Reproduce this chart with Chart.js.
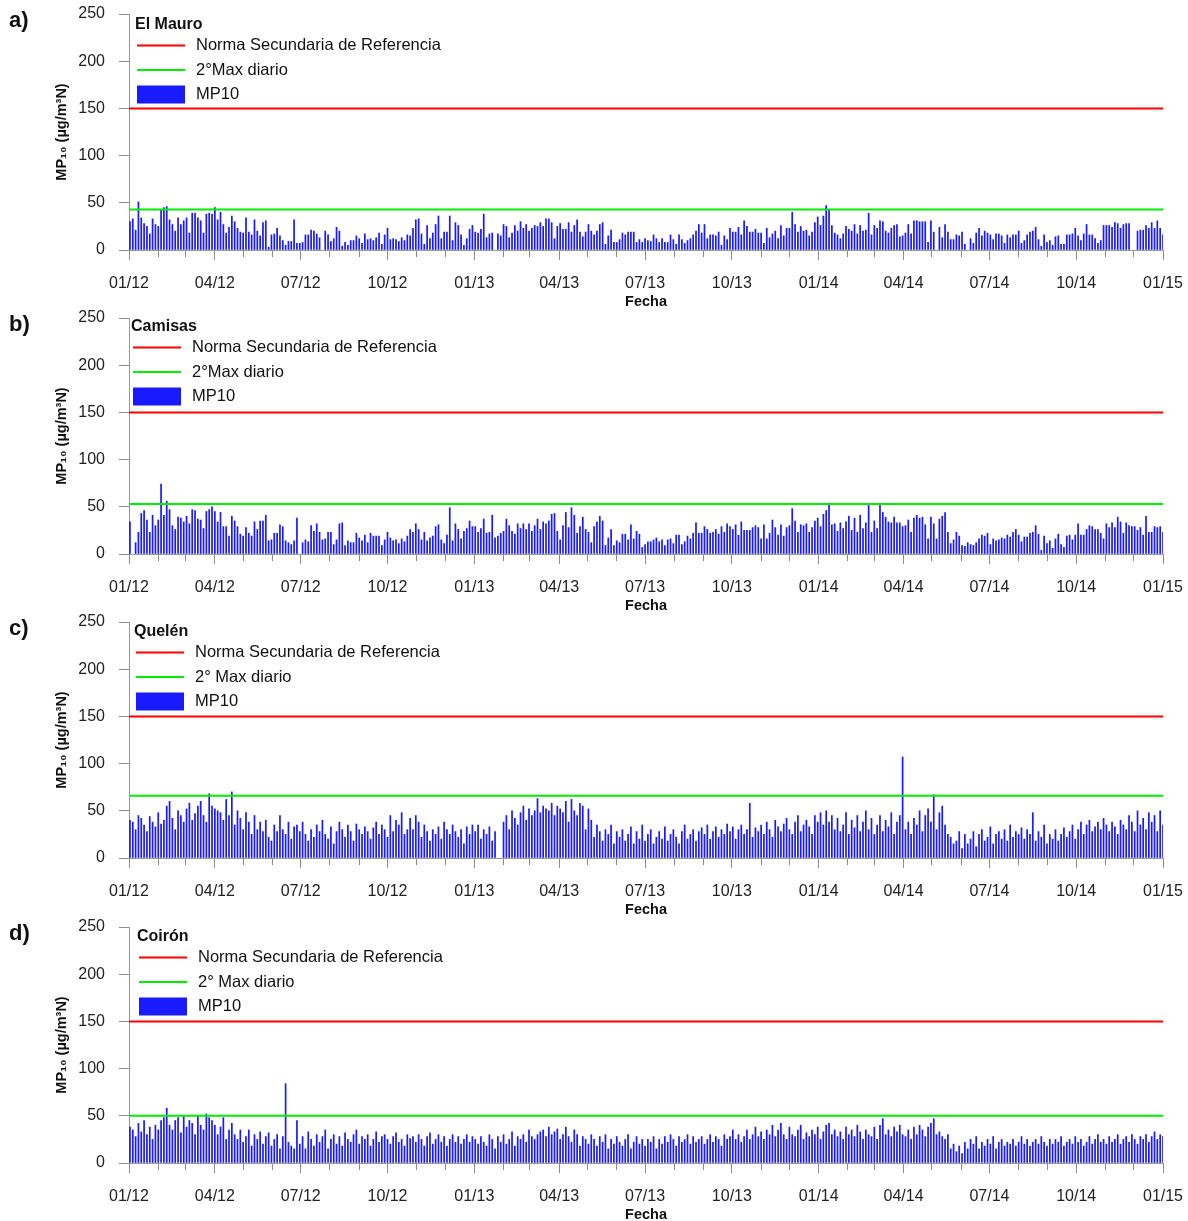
<!DOCTYPE html>
<html lang="es">
<head>
<meta charset="UTF-8">
<title>MP10 diario - estaciones 2012-2014</title>
<script src="https://cdn.jsdelivr.net/npm/chart.js"></script>
<style>
  html, body { margin: 0; padding: 0; background: #fff; overflow: hidden; }
  #wrap { position: relative; width: 1188px; height: 1221px; overflow: hidden; }
  #wrap canvas { position: absolute; left: 0; }
</style>
</head>
<body>
<div id="wrap">
  <canvas id="panelA" width="1188" height="320" style="top:0px"></canvas>
  <canvas id="panelB" width="1188" height="320" style="top:304px"></canvas>
  <canvas id="panelC" width="1188" height="320" style="top:608px"></canvas>
  <canvas id="panelD" width="1188" height="320" style="top:913px"></canvas>
</div>
<script>
// --- data ---------------------------------------------------------------
const xTickLabels = ['01/12', '04/12', '07/12', '10/12', '01/13', '04/13', '07/13',
                     '10/13', '01/14', '04/14', '07/14', '10/14', '01/15'];
const panelLetters = ['a)', 'b)', 'c)', 'd)'];
const stations = ['El Mauro', 'Camisas', 'Quelén', 'Coirón'];
const normaLabel = 'Norma Secundaria de Referencia';
const normaSecundaria = 150;
const maxLabels = ['2°Max diario', '2°Max diario', '2° Max diario', '2° Max diario'];
const segundoMax = [43, 53, 66, 50];
const sampleStep = 3; // one MP10 sample every third day, from 01/01/2012

const mp10ElMauro = [
  30,33,21,51,34,28,25,17,33,27, 25,42,45,46,32,27,20,34,27,31,
  34,18,39,39,34,31,18,38,39,38, 45,32,40,27,18,24,36,30,23,19,
  18,34,19,16,32,20,15,29,31,3, 16,17,23,15,10,5,9,9,32,
  7,7,8,16,16,21,20,17,13,null, 20,16,9,12,24,20,4,8,5,10,
  10,15,12,7,17,11,12,10,13,18, 6,16,23,11,12,11,9,13,10,16,
  15,23,32,33,17,6,26,12,18,27, 36,12,19,19,36,10,29,26,16,5,
  12,22,26,
  19,18,22,38,13,17,18,null,17,
  15,27,25,13,18,26,20,30,23,27, 20,23,26,25,29,25,33,33,29,12,
  25,28,22,22,29,19,26,32,19,14, 19,27,20,16,20,27,29,6,15,21,
  8,8,11,18,16,19,19,19,8,11, 8,12,10,9,16,12,8,12,8,
  8,16,11,6,16,11,7,10,12,16, 20,27,18,27,12,16,16,15,19,5,
  15,11,23,19,19,24,16,31,25,19, 19,22,18,18,7,23,13,17,20,12,
  26,15,23,23,40,27,19,25,20,21, 15,19,29,35,26,36,
  47,42,26,18,16,12,17,25,22,20, 27,17,26,20,21,39,16,26,23,31,
  30,20,18,23,26,27,14,15,18,27, 17,31,31,30,30,30,8,31,19,null,
  24,13,27,19,11,11,16,15,19,6, null,12,7,18,23,15,20,18,16,11,
  17,17,15,7,16,13,16,16,20,7, 10,16,19,20,24,11,4,16,8,10,
  5,14,15,6,6,16,16,17,23,15, 10,17,27,16,16,12,7,10,26,26,
  26,24,29,28,23,27,28,28,null,null, 20,21,21,26,23,29,23,31,23,16
];

const mp10Camisas = [
  34,null,12,23,43,46,36,23,41,30, 36,74,41,56,47,30,26,39,38,34,
  40,32,47,46,37,36,27,45,47,50, 45,34,44,29,29,19,40,35,29,21,
  19,28,22,19,34,26,35,35,41,14, 15,22,22,31,29,14,12,10,14,38,
  null,12,15,13,30,24,32,23,15,16, 23,23,10,15,32,33,9,14,12,
  12,22,17,14,20,12,22,19,19,19, 9,15,23,17,14,15,11,16,13,19,
  26,23,32,26,15,23,14,17,19,29, 31,15,11,20,49,14,32,26,16,24,
  27,35,29,
  29,23,27,37,22,23,41,17,19,22, 24,37,30,24,21,32,27,32,26,32,
  24,30,37,26,34,32,35,42,43,24, 15,30,44,28,49,41,22,29,39,26,
  23,12,29,34,40,35,9,17,26,9, 14,12,21,21,15,31,16,24,21,7,
  10,13,13,15,17,13,15,9,15,16, 11,20,20,10,13,19,16,22,33,22,
  22,29,26,22,23,26,21,29,23,32, 29,26,31,20,34,25,25,25,28,30,
  28,16,31,16,22,36,28,20,31,19, 28,30,48,35,23,31,30,32,23,28,
  35,38,29,42,
  46,54,31,32,24,33,27,34,40,25, 38,23,41,27,33,53,23,35,27,54,
  44,39,34,33,39,33,33,29,30,36, 23,38,41,38,39,31,16,39,32,16,
  37,40,44,23,11,15,23,19,9,8, 12,10,9,12,16,20,19,22,10,16,
  14,15,17,16,20,18,23,26,20,13, 18,18,22,23,30,21,4,19,11,14,
  6,16,21,10,7,19,20,15,20,32, 20,20,26,30,29,26,26,22,16,32,
  28,33,28,39,34,22,33,30,29,29, 25,28,20,40,23,23,29,28,29,23
];

const mp10Quelen = [
  40,38,30,45,42,35,28,44,38,33, 48,36,40,55,60,42,30,50,45,38,
  52,58,40,47,55,60,45,38,68,55, 52,50,48,40,62,45,70,35,50,42,
  30,48,38,25,45,30,38,28,40,22, 18,35,28,45,30,25,38,20,33,35,
  28,38,25,18,30,22,35,28,40,25, 20,33,15,28,38,30,22,35,28,18,
  36,30,25,33,28,20,32,38,25,35, 30,22,45,28,40,35,48,25,30,42,
  30,45,38,22,35,28,18,30,25,33, 20,38,30,25,35,28,22,30,15,33,
  25,35,
  28,35,20,30,25,33,18,28,null,null, 38,45,30,50,42,35,48,55,40,52,
  45,50,63,48,55,52,50,58,45,55, 52,48,60,38,62,50,45,58,55,30,
  52,40,22,35,28,18,30,25,35,15, 28,22,30,18,25,33,15,28,20,35,
  18,25,30,15,22,28,20,33,18,25, 30,22,15,28,35,20,25,30,18,28,
  32,25,35,20,28,33,22,30,25,36, 28,33,20,30,35,25,30,58,22,32,
  28,35,25,38,30,22,40,33,28,36, 42,30,25,38,45,28,35,40,33,25,
  45,38,48,35,
  50,38,45,30,42,28,35,48,25,40, 32,45,28,38,50,30,42,25,35,45,
  28,40,33,48,25,38,45,107,30,38, 25,42,35,50,28,45,52,38,67,30,
  48,55,35,25,22,15,18,28,10,25, 15,20,28,12,25,30,18,22,33,15,
  25,28,20,30,18,35,22,28,25,32, 20,30,25,48,18,28,22,35,15,25,
  20,30,18,25,32,22,28,35,20,30, 38,25,35,40,28,33,38,30,42,35,
  28,38,33,25,40,35,30,45,38,28, 50,35,42,30,48,38,45,28,50,35
];

const mp10Coiron = [
  38,35,28,42,33,45,30,38,25,40, 35,45,48,58,40,35,45,48,32,50,
  38,45,42,30,50,40,35,52,48,45, 40,30,38,48,25,35,42,30,25,35,
  22,28,35,18,30,25,33,20,28,32, 18,25,30,15,28,84,22,18,15,45,
  20,28,15,33,25,18,30,22,28,35, 15,25,30,20,28,18,32,25,22,30,
  35,20,28,25,30,18,25,33,22,28, 30,25,20,28,32,22,25,18,30,26,
  28,22,30,25,18,28,32,20,25,30, 22,28,18,25,30,22,28,20,25,30,
  22,28,
  25,20,28,22,18,30,25,15,28,22, 30,20,25,33,18,28,25,30,22,35,
  28,25,30,33,35,28,38,30,33,36, 25,30,38,28,22,35,30,18,28,25,
  20,30,25,18,28,22,30,15,25,20, 28,22,18,25,30,15,22,28,20,25,
  18,25,22,28,15,25,20,28,22,30, 25,18,28,22,25,30,20,28,22,25,
  28,20,25,30,22,28,25,18,30,25, 28,35,25,30,22,28,35,25,30,38,
  28,33,25,35,30,40,28,35,42,30, 25,38,30,28,35,40,25,32,28,35,
  30,38,25,33,
  40,42,30,35,28,33,25,38,30,35, 28,40,33,25,35,30,28,38,25,40,
  47,30,35,28,38,33,40,30,28,35, 25,38,30,40,35,28,38,42,47,30,
  33,28,25,30,15,20,12,18,10,22, 15,25,20,28,15,22,18,25,20,28,
  15,22,25,18,22,20,25,18,22,28, 20,25,18,22,25,20,28,22,18,25,
  20,25,22,28,18,22,25,20,28,22, 25,18,22,28,20,25,30,22,25,20,
  28,22,25,30,20,25,28,22,30,25, 20,28,25,30,22,28,33,25,30,28
];

const series = [mp10ElMauro, mp10Camisas, mp10Quelen, mp10Coiron];

// --- x axis in days since 01/01/2012 ---------------------------------------
const T0 = Date.UTC(2012, 0, 1);
const DAY = 86400000;
function labelToDay(lbl) {
  const [m, y] = lbl.split('/').map(Number);
  return (Date.UTC(2000 + y, m - 1, 1) - T0) / DAY;
}
const xMin = labelToDay(xTickLabels[0]);
const xMax = labelToDay(xTickLabels[xTickLabels.length - 1]);
const monthStarts = [];
for (let y = 2012; y <= 2015; y++) {
  for (let m = 0; m < 12; m++) {
    const d = (Date.UTC(y, m, 1) - T0) / DAY;
    if (d <= xMax) monthStarts.push(d);
  }
}

const FONT = "'Liberation Sans', Arial, Helvetica, sans-serif";
Chart.defaults.font.family = FONT;
Chart.defaults.color = '#1a1a1a';

// keep label overhang from pushing the plot area around
function noPadding(s) {
  s.paddingTop = 0;
  s.paddingBottom = 0;
  s.paddingLeft = 0;
  s.paddingRight = 0;
}

// panel letter + legend drawn inside the plot, top left
const panelDecor = {
  id: 'panelDecor',
  afterDraw(chart, args, opts) {
    const { ctx, chartArea } = chart;
    ctx.save();
    ctx.textBaseline = 'middle';
    ctx.textAlign = 'left';
    ctx.fillStyle = '#111';
    ctx.font = 'bold 22px ' + FONT;
    ctx.fillText(opts.letter, 9, 21);

    const x0 = chartArea.left + opts.shift;
    const top = chartArea.top + opts.dy;
    ctx.font = 'bold 16px ' + FONT;
    ctx.fillText(opts.station, x0 - 2, top + 10.5);

    ctx.font = '16.5px ' + FONT;
    chart.data.datasets.forEach((ds, i) => {
      const y = top + 31.5 + i * 24.5;
      if (ds.type === 'line') {
        ctx.strokeStyle = ds.borderColor;
        ctx.lineWidth = ds.borderWidth;
        ctx.beginPath();
        ctx.moveTo(x0, y);
        ctx.lineTo(x0 + 48, y);
        ctx.stroke();
      } else {
        ctx.fillStyle = ds.backgroundColor;
        ctx.fillRect(x0, y - 9, 48, 18);
      }
      ctx.fillStyle = '#111';
      ctx.fillText(ds.label, x0 + 59, y);
    });
    ctx.restore();
  }
};

function refLine(value) {
  return [{ x: xMin, y: value }, { x: xMax, y: value }];
}

function buildPanel(canvasId, k, shift, dy) {
  const bars = series[k].map((v, i) => ({ x: 1 + i * sampleStep, y: v }));
  new Chart(document.getElementById(canvasId), {
    type: 'bar',
    data: {
      datasets: [
        { type: 'line', label: normaLabel, data: refLine(normaSecundaria),
          borderColor: '#ff0000', borderWidth: 2, pointRadius: 0, order: 0 },
        { type: 'line', label: maxLabels[k], data: refLine(segundoMax[k]),
          borderColor: '#00ee00', borderWidth: 2, pointRadius: 0, order: 0 },
        { label: 'MP10', data: bars, backgroundColor: '#1a1aff',
          barThickness: 1.05, order: 1 }
      ]
    },
    options: {
      responsive: false,
      animation: false,
      events: [],
      layout: { padding: { top: 14, right: 25, left: 0, bottom: 0 } },
      plugins: {
        legend: { display: false },
        tooltip: { enabled: false },
        panelDecor: { letter: panelLetters[k], station: stations[k], shift: shift, dy: dy }
      },
      scales: {
        x: {
          type: 'linear', position: 'bottom', weight: 2,
          min: xMin, max: xMax, offset: false,
          afterBuildTicks: s => { s.ticks = xTickLabels.map(l => ({ value: labelToDay(l) })); },
          afterFit: s => { s.height = 70; noPadding(s); },
          ticks: {
            callback: (v, i) => xTickLabels[i],
            autoSkip: false, maxRotation: 0,
            font: { size: 16 }, color: '#222', padding: 14
          },
          border: { color: '#999', width: 1 },
          grid: { drawOnChartArea: false, offset: false, tickLength: 10, color: '#8c8c8c' },
          title: {
            display: true, text: 'Fecha', color: '#111',
            font: { size: 14.5, weight: 'bold' }, padding: { top: 0, bottom: 9 }
          }
        },
        // monthly minor ticks along the date axis
        xMonths: {
          type: 'linear', position: 'bottom', weight: 1,
          min: xMin, max: xMax, offset: false,
          afterBuildTicks: s => { s.ticks = monthStarts.map(v => ({ value: v })); },
          afterFit: s => { s.height = 0; noPadding(s); },
          ticks: { display: false },
          border: { display: false },
          grid: { drawOnChartArea: false, offset: false, tickLength: 7, color: '#8c8c8c' }
        },
        y: {
          min: 0, max: 250,
          afterFit: s => { s.width = 129; noPadding(s); },
          ticks: { stepSize: 50, font: { size: 16 }, color: '#222', padding: 14 },
          border: { color: '#999', width: 1 },
          grid: { drawOnChartArea: false, tickLength: 10, color: '#8c8c8c' },
          title: {
            display: true, text: 'MP₁₀ (µg/m³N)', color: '#111',
            font: { size: 14.5, weight: 'bold' }, padding: { top: 53, bottom: 0 }
          }
        }
      }
    },
    plugins: [panelDecor]
  });
}

buildPanel('panelA', 0, 8, 0);
buildPanel('panelB', 1, 4, -2);
buildPanel('panelC', 2, 7, -1);
buildPanel('panelD', 3, 10, -1);
</script>
</body>
</html>
